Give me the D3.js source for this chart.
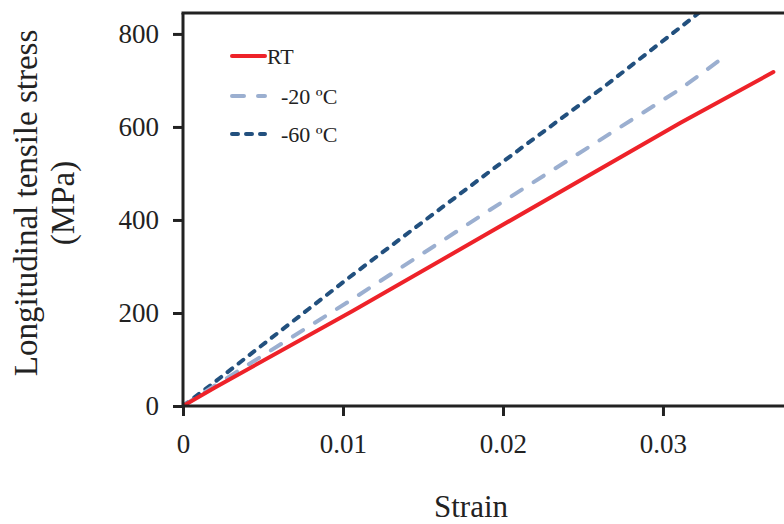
<!DOCTYPE html>
<html>
<head>
<meta charset="utf-8">
<script src="https://cdn.jsdelivr.net/npm/d3@7"></script>
<style>
  body { margin: 0; background: #fff; }
  text { font-family: "Liberation Serif", "Times New Roman", serif; fill: #222; }
</style>
</head>
<body>
<div id="chart"></div>
<script>
// data (strain, MPa)
const rtStrain   = [0, 0.002, 0.0106, 0.0192, 0.0311, 0.0369];
const rtStress   = [0, 40, 204, 374, 609, 718];
const m20Strain  = [0, 0.002, 0.0106, 0.0192, 0.0311, 0.034];
const m20Stress  = [0, 44, 230, 422, 682, 755];
const m60Strain  = [0, 0.002, 0.0106, 0.0192, 0.0263, 0.0319, 0.033];
const m60Stress  = [0, 52, 282, 505, 686, 836, 866];
const seriesNames = ['RT', '-20 ºC', '-60 ºC'];
const xTicks = [0, 0.01, 0.02, 0.03];
const yTicks = [0, 200, 400, 600, 800];

const W = 784, H = 524;
const mLeft = 183, mTop = 13, mBottom = 406, mRight = 790;

let svg = d3.select('#chart').append('svg')
  .attr('width', W).attr('height', H);

let x = d3.scaleLinear().domain([0, 0.03794]).range([mLeft, mRight]);
let y = d3.scaleLinear().domain([0, 845]).range([mBottom, mTop]);

svg.append('clipPath').attr('id', 'clip')
  .append('rect').attr('x', mLeft).attr('y', mTop).attr('width', mRight - mLeft).attr('height', mBottom - mTop);

let series = [
  { name: seriesNames[0], xs: rtStrain, ys: rtStress, color: '#ee2229', dash: null },
  { name: seriesNames[1], xs: m20Strain, ys: m20Stress, color: '#9bafd0', dash: '12,14' },
  { name: seriesNames[2], xs: m60Strain, ys: m60Stress, color: '#22507e', dash: '6,8' }
];

let line = d3.line().x(d => x(d[0])).y(d => y(d[1]));

let plot = svg.append('g').attr('clip-path', 'url(#clip)');
// draw -60 first, then -20, then RT on top
series.slice().reverse().forEach(s => {
  let pts = s.xs.map((v, i) => [v, s.ys[i]]);
  plot.append('path')
    .datum(pts)
    .attr('d', line)
    .attr('fill', 'none')
    .attr('stroke', s.color)
    .attr('stroke-width', 4)
    .attr('stroke-linecap', 'round')
    .attr('stroke-dasharray', s.dash);
});

// axes
let xAxis = svg.append('g')
  .attr('transform', 'translate(0,' + mBottom + ')')
  .call(d3.axisBottom(x).tickValues(xTicks).tickSize(10).tickPadding(18).tickFormat(d => d === 0 ? '0' : d3.format('.2f')(d)));
let yAxis = svg.append('g')
  .attr('transform', 'translate(' + mLeft + ',0)')
  .call(d3.axisLeft(y).tickValues(yTicks).tickSize(10).tickPadding(14));

[xAxis, yAxis].forEach(a => {
  a.select('.domain').remove();
  a.selectAll('line').attr('stroke', '#222').attr('stroke-width', 3);
  a.selectAll('text').style('font-size', '27px').attr('fill', '#222');
});

// frame lines
svg.append('line').attr('x1', mLeft).attr('x2', mRight).attr('y1', mBottom).attr('y2', mBottom)
  .attr('stroke', '#222').attr('stroke-width', 3);
svg.append('line').attr('x1', mLeft).attr('x2', mLeft).attr('y1', mTop).attr('y2', mBottom + 1.5)
  .attr('stroke', '#222').attr('stroke-width', 3);
svg.append('line').attr('x1', mLeft - 1.5).attr('x2', mRight).attr('y1', mTop).attr('y2', mTop)
  .attr('stroke', '#222').attr('stroke-width', 3);

// axis titles
svg.append('text').attr('x', 471).attr('y', 517).attr('text-anchor', 'middle')
  .style('font-size', '31px').text('Strain');
let yt = svg.append('text').attr('transform', 'translate(0,203) rotate(-90)')
  .attr('text-anchor', 'middle').style('font-size', '33px');
yt.append('tspan').attr('x', 0).attr('y', 37).text('Longitudinal tensile stress');
yt.append('tspan').attr('x', 0).attr('y', 74).text('(MPa)');

// legend
let legY = [56, 96, 134];
series.forEach((s, i) => {
  svg.append('line')
    .attr('x1', 232).attr('x2', 265)
    .attr('y1', legY[i]).attr('y2', legY[i])
    .attr('stroke', s.color).attr('stroke-width', 4)
    .attr('stroke-linecap', 'round')
    .attr('stroke-dasharray', s.dash);
  svg.append('text')
    .attr('x', i === 0 ? 267 : 281).attr('y', legY[i] + 8)
    .style('font-size', '22px').text(s.name);
});
</script>
</body>
</html>
